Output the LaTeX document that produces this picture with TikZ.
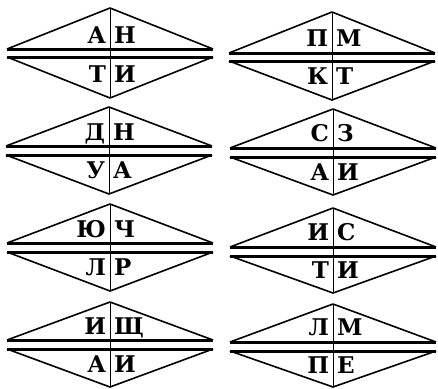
\documentclass[tikz,border=0pt]{standalone}
\usepackage{fontspec}
\setmainfont{DejaVu Serif}

\begin{document}
\begin{tikzpicture}[x=1pt,y=-1pt,
  side/.style={line width=1.6pt, line join=round},
  baseline/.style={line width=3pt},
  divider/.style={line width=0.8pt},
  every node/.style={font=\bfseries\fontsize{23}{23}\selectfont, inner sep=0pt, outer sep=0pt}]

\useasboundingbox (0,0) rectangle (438,388);

% row 1, left
\begin{scope}[shift={(110,49)}]
\draw[side] (-103,0) -- (0,-41) -- (103,0);
\draw[side] (-103,8) -- (0,49) -- (103,8);
\draw[baseline] (-103,0) -- (103,0);
\draw[baseline] (-103,8) -- (103,8);
\draw[divider] (0,-41) -- (0,49);
\node[anchor=base east] (a11) at (-4,-6) {А};
\node[anchor=base west] (a12) at (4,-6) {Н};
\node[anchor=base east] (a13) at (-4,33) {Т};
\node[anchor=base west] (a14) at (4,33) {И};
\end{scope}

% row 1, right
\begin{scope}[shift={(332,53)}]
\draw[side] (-103,0) -- (0,-41) -- (103,0);
\draw[side] (-103,8) -- (0,47) -- (103,8);
\draw[baseline] (-103,0) -- (103,0);
\draw[baseline] (-103,8) -- (103,8);
\draw[divider] (0,-41) -- (0,47);
\node[anchor=base east] (b11) at (-4,-7) {П};
\node[anchor=base west] (b12) at (4,-7) {М};
\node[anchor=base east] (b13) at (-4,31) {К};
\node[anchor=base west] (b14) at (4,31) {Т};
\end{scope}

% row 2, left
\begin{scope}[shift={(109,146)}]
\draw[side] (-103,0) -- (0,-39) -- (103,0);
\draw[side] (-103,9) -- (0,48) -- (103,9);
\draw[baseline] (-103,0) -- (103,0);
\draw[baseline] (-103,9) -- (103,9);
\draw[divider] (0,-39) -- (0,48);
\node[anchor=base east] (a21) at (-4,-6) {Д};
\node[anchor=base west] (a22) at (4,-6) {Н};
\node[anchor=base east] (a23) at (-4,32) {У};
\node[anchor=base west] (a24) at (4,32) {А};
\end{scope}

% row 2, right
\begin{scope}[shift={(333,148)}]
\draw[side] (-103,0) -- (0,-39) -- (103,0);
\draw[side] (-103,9) -- (0,47) -- (103,9);
\draw[baseline] (-103,0) -- (103,0);
\draw[baseline] (-103,9) -- (103,9);
\draw[divider] (0,-39) -- (0,47);
\node[anchor=base east] (b21) at (-4,-7) {С};
\node[anchor=base west] (b22) at (4,-7) {З};
\node[anchor=base east] (b23) at (-4,32) {А};
\node[anchor=base west] (b24) at (4,32) {И};
\end{scope}

% row 3, left
\begin{scope}[shift={(110,243)}]
\draw[side] (-103,0) -- (0,-39) -- (103,0);
\draw[side] (-103,9) -- (0,48) -- (103,9);
\draw[baseline] (-103,0) -- (103,0);
\draw[baseline] (-103,9) -- (103,9);
\draw[divider] (0,-39) -- (0,48);
\node[anchor=base east] (a31) at (-4,-6) {Ю};
\node[anchor=base west] (a32) at (4,-6) {Ч};
\node[anchor=base east] (a33) at (-4,32) {Л};
\node[anchor=base west] (a34) at (4,32) {Р};
\end{scope}

% row 3, right
\begin{scope}[shift={(333,247)}]
\draw[side] (-103,0) -- (0,-39) -- (103,0);
\draw[side] (-103,9) -- (0,46) -- (103,9);
\draw[baseline] (-103,0) -- (103,0);
\draw[baseline] (-103,9) -- (103,9);
\draw[divider] (0,-39) -- (0,46);
\node[anchor=base east] (b31) at (-4,-7) {И};
\node[anchor=base west] (b32) at (4,-7) {С};
\node[anchor=base east] (b33) at (-4,31) {Т};
\node[anchor=base west] (b34) at (4,31) {И};
\end{scope}

% row 4, left
\begin{scope}[shift={(110,340)}]
\draw[side] (-103,0) -- (0,-38) -- (103,0);
\draw[side] (-103,9) -- (0,47) -- (103,9);
\draw[baseline] (-103,0) -- (103,0);
\draw[baseline] (-103,9) -- (103,9);
\draw[divider] (0,-38) -- (0,47);
\node[anchor=base east] (a41) at (-4,-6) {И};
\node[anchor=base west] (a42) at (4,-6) {Щ};
\node[anchor=base east] (a43) at (-4,32) {А};
\node[anchor=base west] (a44) at (4,32) {И};
\end{scope}

% row 4, right
\begin{scope}[shift={(333,342)}]
\draw[side] (-103,0) -- (0,-38) -- (103,0);
\draw[side] (-103,9) -- (0,45) -- (103,9);
\draw[baseline] (-103,0) -- (103,0);
\draw[baseline] (-103,9) -- (103,9);
\draw[divider] (0,-38) -- (0,45);
\node[anchor=base east] (b41) at (-4,-7) {Л};
\node[anchor=base west] (b42) at (4,-7) {М};
\node[anchor=base east] (b43) at (-4,31) {П};
\node[anchor=base west] (b44) at (4,31) {Е};
\end{scope}
\end{tikzpicture}
\end{document}
